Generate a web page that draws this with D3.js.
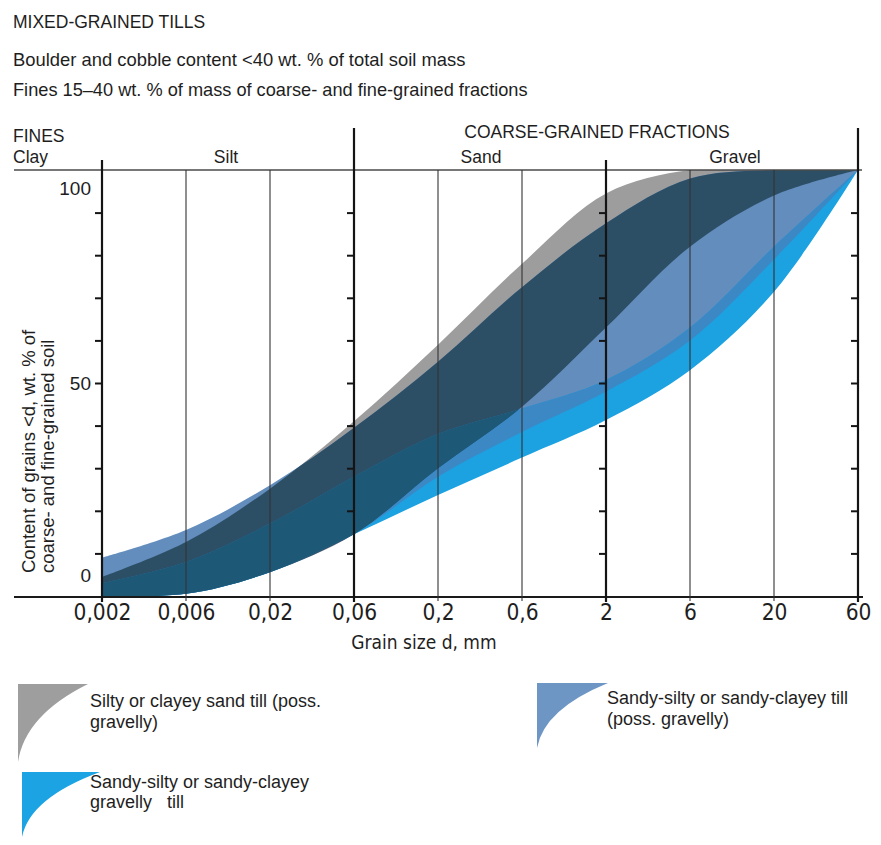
<!DOCTYPE html>
<html>
<head>
<meta charset="utf-8">
<script src="https://cdn.jsdelivr.net/npm/d3@7"></script>
<style>
  body { margin: 0; background: #fff; }
  svg text { font-family: "Liberation Sans", Arial, Helvetica, sans-serif; fill: #1e1e1e; }
  svg text.narrow { font-family: "Liberation Sans Narrow", "DejaVu Sans Condensed", "Arial Narrow", sans-serif; font-stretch: condensed; }
</style>
</head>
<body>
<div id="chart"></div>
<script>
// grain sizes (mm) and their tick labels
const grainSizes = [0.002, 0.006, 0.02, 0.06, 0.2, 0.6, 2, 6, 20, 60];
const tickLabels = ["0,002", "0,006", "0,02", "0,06", "0,2", "0,6", "2", "6", "20", "60"];
const heavyLines = [0.002, 0.06, 2, 60];

// silty or clayey sand till (poss. gravelly) - grey band
const siltyUpper = [4.5, 12.7, 25.2, 41, 59, 78, 94.5, 100, 100, 100];
const siltyLower = [0, 0.5, 5.6, 14.5, 30, 44.4, 63, 82, 94, 100];
// sandy-silty or sandy-clayey till (poss. gravelly) - greyish blue band
const sandyUpper = [9, 15.5, 26, 39.5, 55, 72.5, 87.5, 98, 100, 100];
const sandyLower = [0, 0.5, 5.6, 14.5, 28, 38.5, 48, 60, 79, 100];
// sandy-silty or sandy-clayey gravelly till - bright blue band
const gravelUpper = [3, 8, 17, 28, 38, 44, 50.7, 63, 82, 100];
const gravelLower = [0, 0.5, 5.6, 14.5, 23.7, 32.5, 41.3, 53, 71.4, 100];

const yTicks = [10, 20, 30, 40, 50, 60, 70, 80, 90];
const yLabels = [0, 50, 100];

const width = 881, height = 845;
const svg = d3.select("#chart").append("svg")
  .attr("width", width).attr("height", height);

// equal spacing between labelled sizes, log inside each step
const x = d3.scaleLog()
  .domain(grainSizes)
  .range(grainSizes.map((d, i) => 102 + i * 84));
const y = d3.scaleLinear().domain([0, 100]).range([596, 170]);

const band = (lo, hi) => grainSizes.map((g, i) => ({ g, lo: lo[i], hi: hi[i] }));
const area = d3.area()
  .x(d => x(d.g)).y0(d => y(d.lo)).y1(d => y(d.hi))
  .curve(d3.curveCatmullRom.alpha(0.5));

const G = band(siltyLower, siltyUpper);
const M = band(sandyLower, sandyUpper);
const B = band(gravelLower, gravelUpper);

const defs = svg.append("defs");
defs.append("clipPath").attr("id", "clipPlot").append("rect")
  .attr("x", x(0.002)).attr("y", y(100))
  .attr("width", x(60) - x(0.002)).attr("height", y(0) - y(100));
defs.append("clipPath").attr("id", "clipG").append("path").attr("d", area(G));
defs.append("clipPath").attr("id", "clipM").append("path").attr("d", area(M));

const col = {
  G: "#9d9d9d", M: "#628dbd", B: "#1ca1e1",
  GM: "#2d4f66", MB: "#3c88c4", GB: "#1d5d7f", GMB: "#1e5877"
};

const plot = svg.append("g").attr("clip-path", "url(#clipPlot)");

// single bands
plot.append("path").attr("d", area(G)).attr("fill", col.G);
plot.append("path").attr("d", area(M)).attr("fill", col.M);
plot.append("path").attr("d", area(B)).attr("fill", col.B);
// overlaps (printed colours darken where bands cross)
plot.append("g").attr("clip-path", "url(#clipG)")
  .append("path").attr("d", area(M)).attr("fill", col.GM);
plot.append("g").attr("clip-path", "url(#clipM)")
  .append("path").attr("d", area(B)).attr("fill", col.MB);
plot.append("g").attr("clip-path", "url(#clipG)")
  .append("path").attr("d", area(B)).attr("fill", col.GB);
plot.append("g").attr("clip-path", "url(#clipG)")
  .append("g").attr("clip-path", "url(#clipM)")
  .append("path").attr("d", area(B)).attr("fill", col.GMB);

// frame lines
svg.append("line").attr("x1", 14).attr("x2", 862).attr("y1", y(100)).attr("y2", y(100))
  .attr("stroke", "#4a4a4a").attr("stroke-width", 1.4);
svg.append("line").attr("x1", 14).attr("x2", 863).attr("y1", y(0) + 1).attr("y2", y(0) + 1)
  .attr("stroke", "#1a1a1a").attr("stroke-width", 2.2);

// vertical grid
svg.append("g").selectAll("line")
  .data(grainSizes.filter(d => !heavyLines.includes(d)))
  .join("line")
  .attr("x1", d => x(d)).attr("x2", d => x(d))
  .attr("y1", y(100)).attr("y2", y(0) + 5)
  .attr("stroke", "#333").attr("stroke-width", 1.1);

svg.append("g").selectAll("line")
  .data(heavyLines)
  .join("line")
  .attr("x1", d => x(d)).attr("x2", d => x(d))
  .attr("y1", (d, i) => i % 2 === 0 ? 160 : 128).attr("y2", y(0) + 6)
  .attr("stroke", "#141414").attr("stroke-width", 2.2);

// ticks on the heavy lines
heavyLines.forEach(v => {
  svg.append("g")
    .attr("transform", `translate(${x(v)},0)`)
    .call(d3.axisLeft(y).tickValues(yTicks).tickSize(7).tickFormat(""))
    .call(g => g.select(".domain").remove())
    .call(g => g.selectAll("line").attr("stroke", "#141414").attr("stroke-width", 2));
});

// x axis labels
svg.append("g")
  .attr("transform", `translate(0,${y(0)})`)
  .call(d3.axisBottom(x).tickValues(grainSizes).tickFormat((d, i) => tickLabels[i]).tickSize(0).tickPadding(8))
  .call(g => g.select(".domain").remove())
  .call(g => g.selectAll("text").attr("class", "narrow").attr("font-size", 22.5).attr("fill", "#1e1e1e"));

svg.append("text").attr("class", "narrow")
  .attr("x", 424).attr("y", 649).attr("text-anchor", "middle").attr("font-size", 19)
  .text("Grain size d, mm");

// y labels
const yOff = { 0: -14, 50: 7, 100: 25 };
svg.append("g").selectAll("text")
  .data(yLabels).join("text")
  .attr("x", 91).attr("y", d => y(d) + yOff[d])
  .attr("text-anchor", "end").attr("font-size", 19)
  .text(d => d);

svg.append("text").attr("transform", "translate(35,573) rotate(-90)")
  .attr("font-size", 18.5).text("Content of grains <d, wt. % of");
svg.append("text").attr("transform", "translate(54,573) rotate(-90)")
  .attr("font-size", 18.5).text("coarse- and fine-grained soil");

// titles
const tx = (t, xx, yy, size, anchor) => svg.append("text")
  .attr("x", xx).attr("y", yy).attr("font-size", size)
  .attr("text-anchor", anchor || "start").text(t);

tx("MIXED-GRAINED TILLS", 13, 28, 17.5);
tx("Boulder and cobble content <40 wt. % of total soil mass", 13, 66, 18.4);
tx("Fines 15\u201340 wt. % of mass of coarse- and fine-grained fractions", 13, 96, 18.2);

tx("FINES", 13, 142, 17.5);
tx("Clay", 13, 163, 17.5);
tx("Silt", 226, 163, 17.5, "middle");
tx("COARSE-GRAINED FRACTIONS", 597, 138, 17.5, "middle");
tx("Sand", 481, 163, 17.5, "middle");
tx("Gravel", 735, 163, 17.5, "middle");

// legend
const swatch = (x0, y0, x1, y1, fill) => {
  const p = d3.path();
  p.moveTo(x0, y0);
  p.lineTo(x1, y0);
  p.quadraticCurveTo(x0 + (x1 - x0) * 0.1, y0 + (y1 - y0) * 0.4, x0, y1);
  p.closePath();
  svg.append("path").attr("d", p.toString()).attr("fill", fill);
};

swatch(18, 684, 88, 762, "#9e9e9e");
tx("Silty or clayey sand till (poss.", 90, 707, 18);
tx("gravelly)", 90, 728, 18);

swatch(22, 772, 100, 837, "#1ba3e3");
tx("Sandy-silty or sandy-clayey", 90, 788, 18);
tx("gravelly\u00a0\u00a0 till", 90, 808, 18);

swatch(537, 683, 608, 748, "#6e96c5");
tx("Sandy-silty or sandy-clayey till", 607, 704, 18);
tx("(poss. gravelly)", 607, 725, 18);
</script>
</body>
</html>
